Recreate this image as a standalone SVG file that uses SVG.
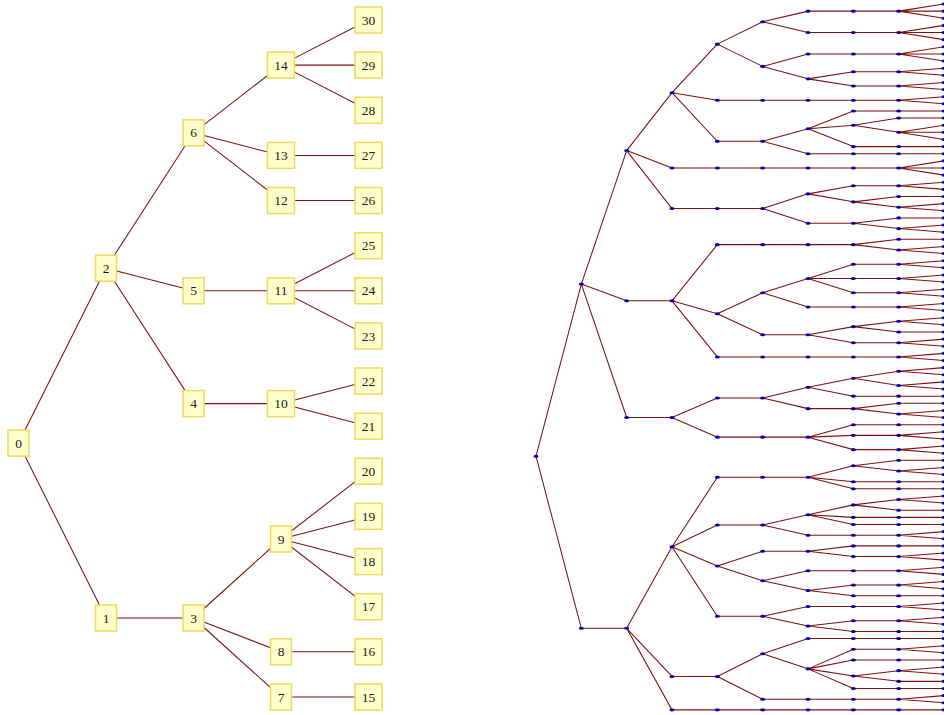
<svg xmlns="http://www.w3.org/2000/svg" xmlns:xlink="http://www.w3.org/1999/xlink" width="944" height="715" viewBox="0 0 944 715">
<style>
.box{fill:#ffffcc;stroke:#f0d95c;stroke-width:1.5}
.lbl{font-family:"Liberation Serif","Times New Roman",serif;font-size:13.5px;fill:#1a1a1a;text-anchor:middle}
.edge{stroke:#7f1010;stroke-width:1.05;fill:none}
.dot{fill:#0000b4}
</style>
<defs>
<!-- vertex marker in the layer/leaf unit space of the right-hand tree -->
<ellipse id="d" class="dot" rx="0.056" ry="0.215"/>
</defs>
<rect width="944" height="715" fill="#ffffff"/>

<!-- labelled tree, depth 4 -->
<g id="edges-left" class="edge">
<line x1="18.5" y1="443.1" x2="106" y2="268.2"/>
<line x1="18.5" y1="443.1" x2="106" y2="618"/>
<line x1="106" y1="268.2" x2="193.5" y2="132.8"/>
<line x1="106" y1="268.2" x2="193.5" y2="290.8"/>
<line x1="106" y1="268.2" x2="193.5" y2="403.6"/>
<line x1="106" y1="618" x2="193.5" y2="618"/>
<line x1="193.5" y1="132.8" x2="281" y2="65.1"/>
<line x1="193.5" y1="132.8" x2="281" y2="155.4"/>
<line x1="193.5" y1="132.8" x2="281" y2="200.5"/>
<line x1="193.5" y1="290.8" x2="281" y2="290.8"/>
<line x1="193.5" y1="403.6" x2="281" y2="403.6"/>
<line x1="193.5" y1="618" x2="281" y2="539"/>
<line x1="193.5" y1="618" x2="281" y2="651.8"/>
<line x1="193.5" y1="618" x2="281" y2="697"/>
<line x1="281" y1="65.1" x2="368.5" y2="20"/>
<line x1="281" y1="65.1" x2="368.5" y2="65.1"/>
<line x1="281" y1="65.1" x2="368.5" y2="110.3"/>
<line x1="281" y1="155.4" x2="368.5" y2="155.4"/>
<line x1="281" y1="200.5" x2="368.5" y2="200.5"/>
<line x1="281" y1="290.8" x2="368.5" y2="245.7"/>
<line x1="281" y1="290.8" x2="368.5" y2="290.8"/>
<line x1="281" y1="290.8" x2="368.5" y2="335.9"/>
<line x1="281" y1="403.6" x2="368.5" y2="381"/>
<line x1="281" y1="403.6" x2="368.5" y2="426.2"/>
<line x1="281" y1="539" x2="368.5" y2="471.3"/>
<line x1="281" y1="539" x2="368.5" y2="516.4"/>
<line x1="281" y1="539" x2="368.5" y2="561.6"/>
<line x1="281" y1="539" x2="368.5" y2="606.7"/>
<line x1="281" y1="651.8" x2="368.5" y2="651.8"/>
<line x1="281" y1="697" x2="368.5" y2="697"/>
</g>

<g id="n0"><rect class="box" x="8" y="430.1" width="21" height="26"/><text class="lbl" x="18.5" y="447.7">0</text></g>
<g id="n1"><rect class="box" x="95.5" y="605" width="21" height="26"/><text class="lbl" x="106" y="622.6">1</text></g>
<g id="n2"><rect class="box" x="95.5" y="255.2" width="21" height="26"/><text class="lbl" x="106" y="272.8">2</text></g>
<g id="n3"><rect class="box" x="183" y="605" width="21" height="26"/><text class="lbl" x="193.5" y="622.6">3</text></g>
<g id="n4"><rect class="box" x="183" y="390.6" width="21" height="26"/><text class="lbl" x="193.5" y="408.2">4</text></g>
<g id="n5"><rect class="box" x="183" y="277.8" width="21" height="26"/><text class="lbl" x="193.5" y="295.4">5</text></g>
<g id="n6"><rect class="box" x="183" y="119.8" width="21" height="26"/><text class="lbl" x="193.5" y="137.4">6</text></g>
<g id="n7"><rect class="box" x="270.5" y="684" width="21" height="26"/><text class="lbl" x="281" y="701.6">7</text></g>
<g id="n8"><rect class="box" x="270.5" y="638.8" width="21" height="26"/><text class="lbl" x="281" y="656.4">8</text></g>
<g id="n9"><rect class="box" x="270.5" y="526" width="21" height="26"/><text class="lbl" x="281" y="543.6">9</text></g>
<g id="n10"><rect class="box" x="267.5" y="390.6" width="27" height="26"/><text class="lbl" x="281" y="408.2">10</text></g>
<g id="n11"><rect class="box" x="267.5" y="277.8" width="27" height="26"/><text class="lbl" x="281" y="295.4">11</text></g>
<g id="n12"><rect class="box" x="267.5" y="187.5" width="27" height="26"/><text class="lbl" x="281" y="205.1">12</text></g>
<g id="n13"><rect class="box" x="267.5" y="142.4" width="27" height="26"/><text class="lbl" x="281" y="160">13</text></g>
<g id="n14"><rect class="box" x="267.5" y="52.1" width="27" height="26"/><text class="lbl" x="281" y="69.7">14</text></g>
<g id="n15"><rect class="box" x="355" y="684" width="27" height="26"/><text class="lbl" x="368.5" y="701.6">15</text></g>
<g id="n16"><rect class="box" x="355" y="638.8" width="27" height="26"/><text class="lbl" x="368.5" y="656.4">16</text></g>
<g id="n17"><rect class="box" x="355" y="593.7" width="27" height="26"/><text class="lbl" x="368.5" y="611.3">17</text></g>
<g id="n18"><rect class="box" x="355" y="548.6" width="27" height="26"/><text class="lbl" x="368.5" y="566.2">18</text></g>
<g id="n19"><rect class="box" x="355" y="503.4" width="27" height="26"/><text class="lbl" x="368.5" y="521">19</text></g>
<g id="n20"><rect class="box" x="355" y="458.3" width="27" height="26"/><text class="lbl" x="368.5" y="475.9">20</text></g>
<g id="n21"><rect class="box" x="355" y="413.2" width="27" height="26"/><text class="lbl" x="368.5" y="430.8">21</text></g>
<g id="n22"><rect class="box" x="355" y="368" width="27" height="26"/><text class="lbl" x="368.5" y="385.6">22</text></g>
<g id="n23"><rect class="box" x="355" y="322.9" width="27" height="26"/><text class="lbl" x="368.5" y="340.5">23</text></g>
<g id="n24"><rect class="box" x="355" y="277.8" width="27" height="26"/><text class="lbl" x="368.5" y="295.4">24</text></g>
<g id="n25"><rect class="box" x="355" y="232.7" width="27" height="26"/><text class="lbl" x="368.5" y="250.3">25</text></g>
<g id="n26"><rect class="box" x="355" y="187.5" width="27" height="26"/><text class="lbl" x="368.5" y="205.1">26</text></g>
<g id="n27"><rect class="box" x="355" y="142.4" width="27" height="26"/><text class="lbl" x="368.5" y="160">27</text></g>
<g id="n28"><rect class="box" x="355" y="97.3" width="27" height="26"/><text class="lbl" x="368.5" y="114.9">28</text></g>
<g id="n29"><rect class="box" x="355" y="52.1" width="27" height="26"/><text class="lbl" x="368.5" y="69.7">29</text></g>
<g id="n30"><rect class="box" x="355" y="7" width="27" height="26"/><text class="lbl" x="368.5" y="24.6">30</text></g>

<!-- unlabelled tree, depth 9: x = layer, y = leaf slot -->
<g id="tree-right" transform="translate(536 4) scale(45.333 7.13)">
<g id="edges-right" class="edge">
<path vector-effect="non-scaling-stroke" d="M0 63.42 1 39.28M0 63.42 1 87.56"/>
<path vector-effect="non-scaling-stroke" d="M1 39.28 2 20.56M1 39.28 2 41.63M1 39.28 2 58M1 87.56 2 87.56"/>
<path vector-effect="non-scaling-stroke" d="M2 20.56 3 12.44M2 20.56 3 23M2 20.56 3 28.69M2 41.63 3 41.63M2 58 3 58M2 87.56 3 76.13M2 87.56 3 94.31M2 87.56 3 99"/>
<path vector-effect="non-scaling-stroke" d="M3 12.44 4 5.63M3 12.44 4 13.5M3 12.44 4 19.25M3 23 4 23M3 28.69 4 28.69M3 41.63 4 33.75M3 41.63 4 43.44M3 41.63 4 49.5M3 58 4 55.25M3 58 4 60.75M3 76.13 4 66.38M3 76.13 4 73.06M3 76.13 4 78.81M3 76.13 4 85.88M3 94.31 4 94.31M3 99 4 99"/>
<path vector-effect="non-scaling-stroke" d="M4 5.63 5 2.5M4 5.63 5 8.75M4 13.5 5 13.5M4 19.25 5 19.25M4 23 5 23M4 28.69 5 28.69M4 33.75 5 33.75M4 43.44 5 40.5M4 43.44 5 46.38M4 49.5 5 49.5M4 55.25 5 55.25M4 60.75 5 60.75M4 66.38 5 66.38M4 73.06 5 73.06M4 78.81 5 76.75M4 78.81 5 80.88M4 85.88 5 85.88M4 94.31 5 91.13M4 94.31 5 97.5M4 99 5 99"/>
<path vector-effect="non-scaling-stroke" d="M5 2.5 6 1M5 2.5 6 4M5 8.75 6 7M5 8.75 6 10.5M5 13.5 6 13.5M5 19.25 6 17.5M5 19.25 6 21M5 23 6 23M5 28.69 6 26.63M5 28.69 6 30.75M5 33.75 6 33.75M5 40.5 6 38.5M5 40.5 6 42.5M5 46.38 6 46.38M5 49.5 6 49.5M5 55.25 6 53.75M5 55.25 6 56.75M5 60.75 6 60.75M5 66.38 6 66.38M5 73.06 6 71.63M5 73.06 6 74.5M5 76.75 6 76.75M5 80.88 6 79.5M5 80.88 6 82.25M5 85.88 6 84.5M5 85.88 6 87.25M5 91.13 6 89M5 91.13 6 93.25M5 97.5 6 97.5M5 99 6 99"/>
<path vector-effect="non-scaling-stroke" d="M6 1 7 1M6 4 7 4M6 7 7 7M6 10.5 7 9.5M6 10.5 7 11.5M6 13.5 7 13.5M6 17.5 7 15M6 17.5 7 17M6 17.5 7 20M6 21 7 21M6 23 7 23M6 26.63 7 25.5M6 26.63 7 27.75M6 30.75 7 30.75M6 33.75 7 33.75M6 38.5 7 36.5M6 38.5 7 38.5M6 38.5 7 40.5M6 42.5 7 42.5M6 46.38 7 45.25M6 46.38 7 47.5M6 49.5 7 49.5M6 53.75 7 52.5M6 53.75 7 55M6 56.75 7 56.75M6 60.75 7 59M6 60.75 7 60.5M6 60.75 7 62.5M6 66.38 7 64.75M6 66.38 7 67M6 66.38 7 68M6 71.63 7 70.25M6 71.63 7 72M6 71.63 7 73M6 74.5 7 74.5M6 76.75 7 76M6 76.75 7 77.5M6 79.5 7 79.5M6 82.25 7 81.5M6 82.25 7 83M6 84.5 7 84.5M6 87.25 7 86.5M6 87.25 7 88M6 89 7 89M6 93.25 7 90.5M6 93.25 7 92M6 93.25 7 94.25M6 93.25 7 96M6 97.5 7 97.5M6 99 7 99"/>
<path vector-effect="non-scaling-stroke" d="M7 1 8 1M7 4 8 4M7 7 8 7M7 9.5 8 9.5M7 11.5 8 11.5M7 13.5 8 13.5M7 15 8 15M7 17 8 16M7 17 8 18M7 20 8 20M7 21 8 21M7 23 8 23M7 25.5 8 25.5M7 27.75 8 27M7 27.75 8 28.5M7 30.75 8 30M7 30.75 8 31.5M7 33.75 8 33M7 33.75 8 34.5M7 36.5 8 36.5M7 38.5 8 38.5M7 40.5 8 40.5M7 42.5 8 42.5M7 45.25 8 44.5M7 45.25 8 46M7 47.5 8 47.5M7 49.5 8 49.5M7 52.5 8 51.5M7 52.5 8 53.5M7 55 8 55M7 56.75 8 56M7 56.75 8 57.5M7 59 8 59M7 60.5 8 60.5M7 62.5 8 62.5M7 64.75 8 64M7 64.75 8 65.5M7 67 8 67M7 68 8 68M7 70.25 8 69.5M7 70.25 8 71M7 72 8 72M7 73 8 73M7 74.5 8 74.5M7 76 8 76M7 77.5 8 77.5M7 79.5 8 79.5M7 81.5 8 81.5M7 83 8 83M7 84.5 8 84.5M7 86.5 8 86.5M7 88 8 88M7 89 8 89M7 90.5 8 90.5M7 92 8 92M7 94.25 8 93.5M7 94.25 8 95M7 96 8 96M7 97.5 8 97.5M7 99 8 99"/>
<path vector-effect="non-scaling-stroke" d="M8 1 9 0M8 1 9 1M8 1 9 2M8 4 9 3M8 4 9 4M8 4 9 5M8 7 9 6M8 7 9 7M8 7 9 8M8 9.5 9 9M8 9.5 9 10M8 11.5 9 11M8 11.5 9 12M8 13.5 9 13M8 13.5 9 14M8 15 9 15M8 16 9 16M8 18 9 17M8 18 9 18M8 18 9 19M8 20 9 20M8 21 9 21M8 23 9 22M8 23 9 23M8 23 9 24M8 25.5 9 25M8 25.5 9 26M8 27 9 27M8 28.5 9 28M8 28.5 9 29M8 30 9 30M8 31.5 9 31M8 31.5 9 32M8 33 9 33M8 34.5 9 34M8 34.5 9 35M8 36.5 9 36M8 36.5 9 37M8 38.5 9 38M8 38.5 9 39M8 40.5 9 40M8 40.5 9 41M8 42.5 9 42M8 42.5 9 43M8 44.5 9 44M8 44.5 9 45M8 46 9 46M8 47.5 9 47M8 47.5 9 48M8 49.5 9 49M8 49.5 9 50M8 51.5 9 51M8 51.5 9 52M8 53.5 9 53M8 53.5 9 54M8 55 9 55M8 56 9 56M8 57.5 9 57M8 57.5 9 58M8 59 9 59M8 60.5 9 60M8 60.5 9 61M8 62.5 9 62M8 62.5 9 63M8 64 9 64M8 65.5 9 65M8 65.5 9 66M8 67 9 67M8 68 9 68M8 69.5 9 69M8 69.5 9 70M8 71 9 71M8 72 9 72M8 73 9 73M8 74.5 9 74M8 74.5 9 75M8 76 9 76M8 77.5 9 77M8 77.5 9 78M8 79.5 9 79M8 79.5 9 80M8 81.5 9 81M8 81.5 9 82M8 83 9 83M8 84.5 9 84M8 84.5 9 85M8 86.5 9 86M8 86.5 9 87M8 88 9 88M8 89 9 89M8 90.5 9 90M8 90.5 9 91M8 92 9 92M8 93.5 9 93M8 93.5 9 94M8 95 9 95M8 96 9 96M8 97.5 9 97M8 97.5 9 98M8 99 9 99"/>
</g>
<g id="r0_0"><use href="#d" x="0" y="63.42"/></g>
<g id="r1_0"><use href="#d" x="1" y="39.28"/></g><g id="r1_1"><use href="#d" x="1" y="87.56"/></g>
<g id="r2_0"><use href="#d" x="2" y="20.56"/></g><g id="r2_1"><use href="#d" x="2" y="41.63"/></g><g id="r2_2"><use href="#d" x="2" y="58"/></g><g id="r2_3"><use href="#d" x="2" y="87.56"/></g>
<g id="r3_0"><use href="#d" x="3" y="12.44"/></g><g id="r3_1"><use href="#d" x="3" y="23"/></g><g id="r3_2"><use href="#d" x="3" y="28.69"/></g><g id="r3_3"><use href="#d" x="3" y="41.63"/></g><g id="r3_4"><use href="#d" x="3" y="58"/></g><g id="r3_5"><use href="#d" x="3" y="76.13"/></g><g id="r3_6"><use href="#d" x="3" y="94.31"/></g><g id="r3_7"><use href="#d" x="3" y="99"/></g>
<g id="r4_0"><use href="#d" x="4" y="5.63"/></g><g id="r4_1"><use href="#d" x="4" y="13.5"/></g><g id="r4_2"><use href="#d" x="4" y="19.25"/></g><g id="r4_3"><use href="#d" x="4" y="23"/></g><g id="r4_4"><use href="#d" x="4" y="28.69"/></g><g id="r4_5"><use href="#d" x="4" y="33.75"/></g><g id="r4_6"><use href="#d" x="4" y="43.44"/></g><g id="r4_7"><use href="#d" x="4" y="49.5"/></g><g id="r4_8"><use href="#d" x="4" y="55.25"/></g><g id="r4_9"><use href="#d" x="4" y="60.75"/></g><g id="r4_10"><use href="#d" x="4" y="66.38"/></g><g id="r4_11"><use href="#d" x="4" y="73.06"/></g><g id="r4_12"><use href="#d" x="4" y="78.81"/></g><g id="r4_13"><use href="#d" x="4" y="85.88"/></g><g id="r4_14"><use href="#d" x="4" y="94.31"/></g><g id="r4_15"><use href="#d" x="4" y="99"/></g>
<g id="r5_0"><use href="#d" x="5" y="2.5"/></g><g id="r5_1"><use href="#d" x="5" y="8.75"/></g><g id="r5_2"><use href="#d" x="5" y="13.5"/></g><g id="r5_3"><use href="#d" x="5" y="19.25"/></g><g id="r5_4"><use href="#d" x="5" y="23"/></g><g id="r5_5"><use href="#d" x="5" y="28.69"/></g><g id="r5_6"><use href="#d" x="5" y="33.75"/></g><g id="r5_7"><use href="#d" x="5" y="40.5"/></g><g id="r5_8"><use href="#d" x="5" y="46.38"/></g><g id="r5_9"><use href="#d" x="5" y="49.5"/></g><g id="r5_10"><use href="#d" x="5" y="55.25"/></g><g id="r5_11"><use href="#d" x="5" y="60.75"/></g><g id="r5_12"><use href="#d" x="5" y="66.38"/></g><g id="r5_13"><use href="#d" x="5" y="73.06"/></g><g id="r5_14"><use href="#d" x="5" y="76.75"/></g><g id="r5_15"><use href="#d" x="5" y="80.88"/></g><g id="r5_16"><use href="#d" x="5" y="85.88"/></g><g id="r5_17"><use href="#d" x="5" y="91.13"/></g><g id="r5_18"><use href="#d" x="5" y="97.5"/></g><g id="r5_19"><use href="#d" x="5" y="99"/></g>
<g id="r6_0"><use href="#d" x="6" y="1"/></g><g id="r6_1"><use href="#d" x="6" y="4"/></g><g id="r6_2"><use href="#d" x="6" y="7"/></g><g id="r6_3"><use href="#d" x="6" y="10.5"/></g><g id="r6_4"><use href="#d" x="6" y="13.5"/></g><g id="r6_5"><use href="#d" x="6" y="17.5"/></g><g id="r6_6"><use href="#d" x="6" y="21"/></g><g id="r6_7"><use href="#d" x="6" y="23"/></g><g id="r6_8"><use href="#d" x="6" y="26.63"/></g><g id="r6_9"><use href="#d" x="6" y="30.75"/></g><g id="r6_10"><use href="#d" x="6" y="33.75"/></g><g id="r6_11"><use href="#d" x="6" y="38.5"/></g><g id="r6_12"><use href="#d" x="6" y="42.5"/></g><g id="r6_13"><use href="#d" x="6" y="46.38"/></g><g id="r6_14"><use href="#d" x="6" y="49.5"/></g><g id="r6_15"><use href="#d" x="6" y="53.75"/></g><g id="r6_16"><use href="#d" x="6" y="56.75"/></g><g id="r6_17"><use href="#d" x="6" y="60.75"/></g><g id="r6_18"><use href="#d" x="6" y="66.38"/></g><g id="r6_19"><use href="#d" x="6" y="71.63"/></g><g id="r6_20"><use href="#d" x="6" y="74.5"/></g><g id="r6_21"><use href="#d" x="6" y="76.75"/></g><g id="r6_22"><use href="#d" x="6" y="79.5"/></g><g id="r6_23"><use href="#d" x="6" y="82.25"/></g><g id="r6_24"><use href="#d" x="6" y="84.5"/></g><g id="r6_25"><use href="#d" x="6" y="87.25"/></g><g id="r6_26"><use href="#d" x="6" y="89"/></g><g id="r6_27"><use href="#d" x="6" y="93.25"/></g><g id="r6_28"><use href="#d" x="6" y="97.5"/></g><g id="r6_29"><use href="#d" x="6" y="99"/></g>
<g id="r7_0"><use href="#d" x="7" y="1"/></g><g id="r7_1"><use href="#d" x="7" y="4"/></g><g id="r7_2"><use href="#d" x="7" y="7"/></g><g id="r7_3"><use href="#d" x="7" y="9.5"/></g><g id="r7_4"><use href="#d" x="7" y="11.5"/></g><g id="r7_5"><use href="#d" x="7" y="13.5"/></g><g id="r7_6"><use href="#d" x="7" y="15"/></g><g id="r7_7"><use href="#d" x="7" y="17"/></g><g id="r7_8"><use href="#d" x="7" y="20"/></g><g id="r7_9"><use href="#d" x="7" y="21"/></g><g id="r7_10"><use href="#d" x="7" y="23"/></g><g id="r7_11"><use href="#d" x="7" y="25.5"/></g><g id="r7_12"><use href="#d" x="7" y="27.75"/></g><g id="r7_13"><use href="#d" x="7" y="30.75"/></g><g id="r7_14"><use href="#d" x="7" y="33.75"/></g><g id="r7_15"><use href="#d" x="7" y="36.5"/></g><g id="r7_16"><use href="#d" x="7" y="38.5"/></g><g id="r7_17"><use href="#d" x="7" y="40.5"/></g><g id="r7_18"><use href="#d" x="7" y="42.5"/></g><g id="r7_19"><use href="#d" x="7" y="45.25"/></g><g id="r7_20"><use href="#d" x="7" y="47.5"/></g><g id="r7_21"><use href="#d" x="7" y="49.5"/></g><g id="r7_22"><use href="#d" x="7" y="52.5"/></g><g id="r7_23"><use href="#d" x="7" y="55"/></g><g id="r7_24"><use href="#d" x="7" y="56.75"/></g><g id="r7_25"><use href="#d" x="7" y="59"/></g><g id="r7_26"><use href="#d" x="7" y="60.5"/></g><g id="r7_27"><use href="#d" x="7" y="62.5"/></g><g id="r7_28"><use href="#d" x="7" y="64.75"/></g><g id="r7_29"><use href="#d" x="7" y="67"/></g><g id="r7_30"><use href="#d" x="7" y="68"/></g><g id="r7_31"><use href="#d" x="7" y="70.25"/></g><g id="r7_32"><use href="#d" x="7" y="72"/></g><g id="r7_33"><use href="#d" x="7" y="73"/></g><g id="r7_34"><use href="#d" x="7" y="74.5"/></g><g id="r7_35"><use href="#d" x="7" y="76"/></g><g id="r7_36"><use href="#d" x="7" y="77.5"/></g><g id="r7_37"><use href="#d" x="7" y="79.5"/></g><g id="r7_38"><use href="#d" x="7" y="81.5"/></g><g id="r7_39"><use href="#d" x="7" y="83"/></g><g id="r7_40"><use href="#d" x="7" y="84.5"/></g><g id="r7_41"><use href="#d" x="7" y="86.5"/></g><g id="r7_42"><use href="#d" x="7" y="88"/></g><g id="r7_43"><use href="#d" x="7" y="89"/></g><g id="r7_44"><use href="#d" x="7" y="90.5"/></g><g id="r7_45"><use href="#d" x="7" y="92"/></g><g id="r7_46"><use href="#d" x="7" y="94.25"/></g><g id="r7_47"><use href="#d" x="7" y="96"/></g><g id="r7_48"><use href="#d" x="7" y="97.5"/></g><g id="r7_49"><use href="#d" x="7" y="99"/></g>
<g id="r8_0"><use href="#d" x="8" y="1"/></g><g id="r8_1"><use href="#d" x="8" y="4"/></g><g id="r8_2"><use href="#d" x="8" y="7"/></g><g id="r8_3"><use href="#d" x="8" y="9.5"/></g><g id="r8_4"><use href="#d" x="8" y="11.5"/></g><g id="r8_5"><use href="#d" x="8" y="13.5"/></g><g id="r8_6"><use href="#d" x="8" y="15"/></g><g id="r8_7"><use href="#d" x="8" y="16"/></g><g id="r8_8"><use href="#d" x="8" y="18"/></g><g id="r8_9"><use href="#d" x="8" y="20"/></g><g id="r8_10"><use href="#d" x="8" y="21"/></g><g id="r8_11"><use href="#d" x="8" y="23"/></g><g id="r8_12"><use href="#d" x="8" y="25.5"/></g><g id="r8_13"><use href="#d" x="8" y="27"/></g><g id="r8_14"><use href="#d" x="8" y="28.5"/></g><g id="r8_15"><use href="#d" x="8" y="30"/></g><g id="r8_16"><use href="#d" x="8" y="31.5"/></g><g id="r8_17"><use href="#d" x="8" y="33"/></g><g id="r8_18"><use href="#d" x="8" y="34.5"/></g><g id="r8_19"><use href="#d" x="8" y="36.5"/></g><g id="r8_20"><use href="#d" x="8" y="38.5"/></g><g id="r8_21"><use href="#d" x="8" y="40.5"/></g><g id="r8_22"><use href="#d" x="8" y="42.5"/></g><g id="r8_23"><use href="#d" x="8" y="44.5"/></g><g id="r8_24"><use href="#d" x="8" y="46"/></g><g id="r8_25"><use href="#d" x="8" y="47.5"/></g><g id="r8_26"><use href="#d" x="8" y="49.5"/></g><g id="r8_27"><use href="#d" x="8" y="51.5"/></g><g id="r8_28"><use href="#d" x="8" y="53.5"/></g><g id="r8_29"><use href="#d" x="8" y="55"/></g><g id="r8_30"><use href="#d" x="8" y="56"/></g><g id="r8_31"><use href="#d" x="8" y="57.5"/></g><g id="r8_32"><use href="#d" x="8" y="59"/></g><g id="r8_33"><use href="#d" x="8" y="60.5"/></g><g id="r8_34"><use href="#d" x="8" y="62.5"/></g><g id="r8_35"><use href="#d" x="8" y="64"/></g><g id="r8_36"><use href="#d" x="8" y="65.5"/></g><g id="r8_37"><use href="#d" x="8" y="67"/></g><g id="r8_38"><use href="#d" x="8" y="68"/></g><g id="r8_39"><use href="#d" x="8" y="69.5"/></g><g id="r8_40"><use href="#d" x="8" y="71"/></g><g id="r8_41"><use href="#d" x="8" y="72"/></g><g id="r8_42"><use href="#d" x="8" y="73"/></g><g id="r8_43"><use href="#d" x="8" y="74.5"/></g><g id="r8_44"><use href="#d" x="8" y="76"/></g><g id="r8_45"><use href="#d" x="8" y="77.5"/></g><g id="r8_46"><use href="#d" x="8" y="79.5"/></g><g id="r8_47"><use href="#d" x="8" y="81.5"/></g><g id="r8_48"><use href="#d" x="8" y="83"/></g><g id="r8_49"><use href="#d" x="8" y="84.5"/></g><g id="r8_50"><use href="#d" x="8" y="86.5"/></g><g id="r8_51"><use href="#d" x="8" y="88"/></g><g id="r8_52"><use href="#d" x="8" y="89"/></g><g id="r8_53"><use href="#d" x="8" y="90.5"/></g><g id="r8_54"><use href="#d" x="8" y="92"/></g><g id="r8_55"><use href="#d" x="8" y="93.5"/></g><g id="r8_56"><use href="#d" x="8" y="95"/></g><g id="r8_57"><use href="#d" x="8" y="96"/></g><g id="r8_58"><use href="#d" x="8" y="97.5"/></g><g id="r8_59"><use href="#d" x="8" y="99"/></g>
<g id="r9_0"><use href="#d" x="9" y="0"/></g><g id="r9_1"><use href="#d" x="9" y="1"/></g><g id="r9_2"><use href="#d" x="9" y="2"/></g><g id="r9_3"><use href="#d" x="9" y="3"/></g><g id="r9_4"><use href="#d" x="9" y="4"/></g><g id="r9_5"><use href="#d" x="9" y="5"/></g><g id="r9_6"><use href="#d" x="9" y="6"/></g><g id="r9_7"><use href="#d" x="9" y="7"/></g><g id="r9_8"><use href="#d" x="9" y="8"/></g><g id="r9_9"><use href="#d" x="9" y="9"/></g>
<g id="r9_10"><use href="#d" x="9" y="10"/></g><g id="r9_11"><use href="#d" x="9" y="11"/></g><g id="r9_12"><use href="#d" x="9" y="12"/></g><g id="r9_13"><use href="#d" x="9" y="13"/></g><g id="r9_14"><use href="#d" x="9" y="14"/></g><g id="r9_15"><use href="#d" x="9" y="15"/></g><g id="r9_16"><use href="#d" x="9" y="16"/></g><g id="r9_17"><use href="#d" x="9" y="17"/></g><g id="r9_18"><use href="#d" x="9" y="18"/></g><g id="r9_19"><use href="#d" x="9" y="19"/></g>
<g id="r9_20"><use href="#d" x="9" y="20"/></g><g id="r9_21"><use href="#d" x="9" y="21"/></g><g id="r9_22"><use href="#d" x="9" y="22"/></g><g id="r9_23"><use href="#d" x="9" y="23"/></g><g id="r9_24"><use href="#d" x="9" y="24"/></g><g id="r9_25"><use href="#d" x="9" y="25"/></g><g id="r9_26"><use href="#d" x="9" y="26"/></g><g id="r9_27"><use href="#d" x="9" y="27"/></g><g id="r9_28"><use href="#d" x="9" y="28"/></g><g id="r9_29"><use href="#d" x="9" y="29"/></g>
<g id="r9_30"><use href="#d" x="9" y="30"/></g><g id="r9_31"><use href="#d" x="9" y="31"/></g><g id="r9_32"><use href="#d" x="9" y="32"/></g><g id="r9_33"><use href="#d" x="9" y="33"/></g><g id="r9_34"><use href="#d" x="9" y="34"/></g><g id="r9_35"><use href="#d" x="9" y="35"/></g><g id="r9_36"><use href="#d" x="9" y="36"/></g><g id="r9_37"><use href="#d" x="9" y="37"/></g><g id="r9_38"><use href="#d" x="9" y="38"/></g><g id="r9_39"><use href="#d" x="9" y="39"/></g>
<g id="r9_40"><use href="#d" x="9" y="40"/></g><g id="r9_41"><use href="#d" x="9" y="41"/></g><g id="r9_42"><use href="#d" x="9" y="42"/></g><g id="r9_43"><use href="#d" x="9" y="43"/></g><g id="r9_44"><use href="#d" x="9" y="44"/></g><g id="r9_45"><use href="#d" x="9" y="45"/></g><g id="r9_46"><use href="#d" x="9" y="46"/></g><g id="r9_47"><use href="#d" x="9" y="47"/></g><g id="r9_48"><use href="#d" x="9" y="48"/></g><g id="r9_49"><use href="#d" x="9" y="49"/></g>
<g id="r9_50"><use href="#d" x="9" y="50"/></g><g id="r9_51"><use href="#d" x="9" y="51"/></g><g id="r9_52"><use href="#d" x="9" y="52"/></g><g id="r9_53"><use href="#d" x="9" y="53"/></g><g id="r9_54"><use href="#d" x="9" y="54"/></g><g id="r9_55"><use href="#d" x="9" y="55"/></g><g id="r9_56"><use href="#d" x="9" y="56"/></g><g id="r9_57"><use href="#d" x="9" y="57"/></g><g id="r9_58"><use href="#d" x="9" y="58"/></g><g id="r9_59"><use href="#d" x="9" y="59"/></g>
<g id="r9_60"><use href="#d" x="9" y="60"/></g><g id="r9_61"><use href="#d" x="9" y="61"/></g><g id="r9_62"><use href="#d" x="9" y="62"/></g><g id="r9_63"><use href="#d" x="9" y="63"/></g><g id="r9_64"><use href="#d" x="9" y="64"/></g><g id="r9_65"><use href="#d" x="9" y="65"/></g><g id="r9_66"><use href="#d" x="9" y="66"/></g><g id="r9_67"><use href="#d" x="9" y="67"/></g><g id="r9_68"><use href="#d" x="9" y="68"/></g><g id="r9_69"><use href="#d" x="9" y="69"/></g>
<g id="r9_70"><use href="#d" x="9" y="70"/></g><g id="r9_71"><use href="#d" x="9" y="71"/></g><g id="r9_72"><use href="#d" x="9" y="72"/></g><g id="r9_73"><use href="#d" x="9" y="73"/></g><g id="r9_74"><use href="#d" x="9" y="74"/></g><g id="r9_75"><use href="#d" x="9" y="75"/></g><g id="r9_76"><use href="#d" x="9" y="76"/></g><g id="r9_77"><use href="#d" x="9" y="77"/></g><g id="r9_78"><use href="#d" x="9" y="78"/></g><g id="r9_79"><use href="#d" x="9" y="79"/></g>
<g id="r9_80"><use href="#d" x="9" y="80"/></g><g id="r9_81"><use href="#d" x="9" y="81"/></g><g id="r9_82"><use href="#d" x="9" y="82"/></g><g id="r9_83"><use href="#d" x="9" y="83"/></g><g id="r9_84"><use href="#d" x="9" y="84"/></g><g id="r9_85"><use href="#d" x="9" y="85"/></g><g id="r9_86"><use href="#d" x="9" y="86"/></g><g id="r9_87"><use href="#d" x="9" y="87"/></g><g id="r9_88"><use href="#d" x="9" y="88"/></g><g id="r9_89"><use href="#d" x="9" y="89"/></g>
<g id="r9_90"><use href="#d" x="9" y="90"/></g><g id="r9_91"><use href="#d" x="9" y="91"/></g><g id="r9_92"><use href="#d" x="9" y="92"/></g><g id="r9_93"><use href="#d" x="9" y="93"/></g><g id="r9_94"><use href="#d" x="9" y="94"/></g><g id="r9_95"><use href="#d" x="9" y="95"/></g><g id="r9_96"><use href="#d" x="9" y="96"/></g><g id="r9_97"><use href="#d" x="9" y="97"/></g><g id="r9_98"><use href="#d" x="9" y="98"/></g><g id="r9_99"><use href="#d" x="9" y="99"/></g>
</g>
</svg>
